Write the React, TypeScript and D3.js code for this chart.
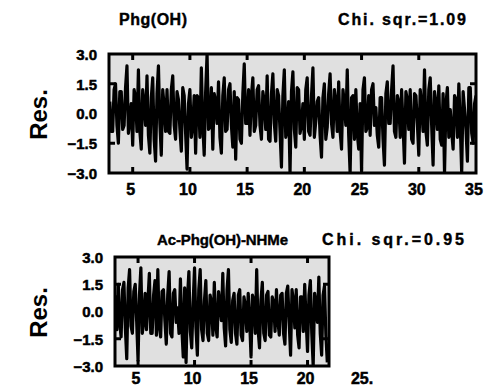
import React, { useEffect, useRef } from 'react';
import * as d3 from 'd3';

// residuals, one value every 0.125 units starting at x = 3
const phgResiduals = [
  0.6, -0.9, -0.9, 1.2, 1.5, -0.6, -1.5, 1.1, 1.1, -0.8, -0.6, 1.3, 2.4, -1.0, -0.4, 0.5, -1.6, 1.2, 0.8, -0.9,
  2.2, -0.9, -1.8, 1.2, 0.5, -0.6, 1.9, -1.1, -2.0, 0.8, 1.8, -1.3, -2.4, 1.0, 2.4, -0.5, -2.1, 1.2, 0.4, -0.9,
  1.2, -0.9, -1.0, 1.2, 1.9, -0.6, -1.3, 1.1, 0.7, -0.8, -1.9, 1.3, 0.9, -1.0, -2.8, 0.5, 1.2, -1.2, -0.6, 0.9,
  -2.0, 0.9, 0.8, -1.2, 2.3, -0.6, -2.1, 1.1, 3.0, -0.8, -0.7, 1.3, -1.8, 1.0, 0.6, -0.5, 1.6, -1.2, -2.0, 0.9,
  1.8, -0.9, -0.8, 1.2, 1.5, -0.6, -1.7, 1.1, -2.3, 0.8, 0.7, -1.3, -1.5, 1.0, 2.5, -0.5, -0.5, 1.2, -1.1, 0.9,
  1.8, -0.9, -0.6, 1.2, 1.4, -0.6, -1.3, 1.1, 0.6, -0.8, 1.9, -1.3, -1.4, 1.0, 2.0, -0.5, -1.4, 1.2, 0.9, -0.9,
  -2.7, 0.9, 2.2, -1.2, -0.8, 0.6, -3.0, 1.1, 2.1, -0.8, -1.7, 1.3, 1.2, -1.0, -0.6, 0.5, -1.3, 1.2, 1.8, -0.9,
  -1.1, 0.9, 2.3, -1.2, -0.4, 0.6, 0.8, -1.1, -2.2, 0.8, 1.5, -1.3, -0.7, 1.0, 2.0, -0.5, -1.2, 1.2, 0.6, -0.9,
  1.6, -0.9, -1.8, 1.2, 0.5, -0.6, 2.2, -1.1, -3.0, 0.8, 0.9, -1.3, 1.2, -1.0, -1.8, 0.5, -2.9, 1.2, 1.8, -0.9,
  -0.7, 0.9, -1.1, 1.2, 1.5, -0.6, 0.3, -1.1, -1.7, 0.8, 0.8, -1.3, -2.6, 1.0, 1.6, -0.5, -0.5, 1.2, 2.4, -0.9,
  -1.2, 0.9, 0.6, -1.2, 1.2, -0.6, -2.5, 1.1, 0.7, -0.8, 1.2, -1.3, -1.5, 1.0, 0.9, -0.5, -2.1, 1.2, 0.4, -0.9,
  2.2, -0.9, -1.6, 1.2, 1.8, -0.6, -2.6, 1.1, 0.5, -0.8, 1.4, -1.3, -1.6, 1.0, -3.0, 0.5, 1.3, -1.2, 0.2, -0.9,
  -1.8, 0.9, 0.7, -1.2, 1.5, -0.6, -3.0, 1.1, 0.2, -0.8, -2.4, 1.3, 1.3, -1.0, -1.5, 0.5, 0.9,
];

const acResiduals = [
  0.9, -1.0, 1.5, -0.6, -1.4, 1.2, 1.6, -0.9, -2.6, 1.3, 2.3, -0.8, -1.2, 1.1, 1.5, -0.5, -2.7, 0.9, 2.4, -1.2,
  -0.6, 1.0, -1.0, 0.6, 2.1, -1.2, -1.2, 0.9, 1.7, -1.3, 2.3, -0.8, -1.4, 1.1, 1.2, -0.5, -1.8, 0.9, 2.2, -1.2,
  -1.4, 1.0, 1.2, -0.6, 0.2, -1.2, 1.8, -0.9, -2.5, 1.3, -2.8, 0.8, 2.2, -1.1, -2.0, 0.5, 2.4, -0.9, -2.4, 1.2,
  2.3, -1.0, -1.6, 0.6, 1.7, -1.2, -1.6, 0.9, 0.5, -1.3, 1.6, -0.8, -1.4, 1.1, 0.4, -0.5, 2.1, -0.9, -1.9, 1.2,
  2.3, -1.0, -1.7, 0.6, 1.0, -1.2, -1.8, 0.9, 1.2, -1.3, -1.6, 0.8, 0.3, -1.1, 1.0, -0.5, -2.5, 0.9, 0.6, -1.2,
  2.3, -1.0, -2.0, 0.6, 1.6, -1.2, -1.6, 0.9, 1.1, -1.3, -1.4, 0.8, 0.5, -1.1, 1.2, -0.5, -1.3, 0.9, 1.0, -1.2,
  -1.8, 1.0, 1.4, -0.6, -2.4, 1.2, 0.6, -0.9, 1.2, -1.3, -2.0, 0.8, 0.8, -1.1, 1.5, -0.5, -2.2, 0.9, 1.7, -1.2,
  -3.0, 1.0, 0.5, -0.6, 1.9, -1.2, -2.4, 0.9, 1.4, -1.3, -2.8,
];

const phgTicks = [5, 10, 15, 20, 25, 30, 35];
const acTicks = [5, 10, 15, 20, 25];
const resTicks = [3.0, 1.5, 0.0, -1.5, -3.0];

const font = '"Liberation Sans", Arial, sans-serif';

interface PanelCfg {
  id: string;
  data: number[];
  xDomain: [number, number];
  left: number;
  right: number;
  top: number;
  bottom: number;
  xTicks: number[];
  xLabelY: number;
  title: string;
  titleX: number;
  titleLen: number;
  titleSize: number;
  chi: string;
  chiX: number;
  chiLen: number;
  titleY: number;
}

const drawPanel = (svg: d3.Selection<SVGSVGElement, unknown, null, undefined>, cfg: PanelCfg) => {
  const x = d3.scaleLinear().domain(cfg.xDomain).range([cfg.left, cfg.right]);
  const y = d3.scaleLinear().domain([-3, 3]).range([cfg.bottom, cfg.top]);
  const g = svg.append('g');

  g.append('rect')
    .attr('x', cfg.left)
    .attr('y', cfg.top)
    .attr('width', cfg.right - cfg.left)
    .attr('height', cfg.bottom - cfg.top)
    .attr('fill', '#e0e0e0');

  g.append('clipPath')
    .attr('id', cfg.id)
    .append('rect')
    .attr('x', cfg.left)
    .attr('y', cfg.top)
    .attr('width', cfg.right - cfg.left)
    .attr('height', cfg.bottom - cfg.top);

  const line = d3.line<number>()
    .x((d, i) => x(3 + i * 0.125))
    .y(d => y(d));

  g.append('path')
    .datum(cfg.data)
    .attr('clip-path', `url(#${cfg.id})`)
    .attr('fill', 'none')
    .attr('stroke', '#000')
    .attr('stroke-width', 3.2)
    .attr('stroke-linejoin', 'round')
    .attr('d', line);

  // frame
  g.append('rect')
    .attr('x', cfg.left)
    .attr('y', cfg.top)
    .attr('width', cfg.right - cfg.left)
    .attr('height', cfg.bottom - cfg.top)
    .attr('fill', 'none')
    .attr('stroke', '#000')
    .attr('stroke-width', 3);

  // inward ticks on top and bottom
  const inside = cfg.xTicks.filter(t => x(t) > cfg.left + 2 && x(t) < cfg.right - 2);
  inside.forEach(t => {
    g.append('line')
      .attr('x1', x(t)).attr('x2', x(t))
      .attr('y1', cfg.top).attr('y2', cfg.top + 6)
      .attr('stroke', '#000').attr('stroke-width', 3);
    g.append('line')
      .attr('x1', x(t)).attr('x2', x(t))
      .attr('y1', cfg.bottom).attr('y2', cfg.bottom - 6)
      .attr('stroke', '#000').attr('stroke-width', 3);
  });

  // inward ticks on left and right
  [1.5, -1.5].forEach(v => {
    g.append('line')
      .attr('x1', cfg.left).attr('x2', cfg.left + 6)
      .attr('y1', y(v)).attr('y2', y(v))
      .attr('stroke', '#000').attr('stroke-width', 3);
    g.append('line')
      .attr('x1', cfg.right).attr('x2', cfg.right - 6)
      .attr('y1', y(v)).attr('y2', y(v))
      .attr('stroke', '#000').attr('stroke-width', 3);
  });

  // y labels
  g.selectAll('.ylab')
    .data(resTicks)
    .enter()
    .append('text')
    .attr('x', cfg.left - 12)
    .attr('y', d => y(d) + 2)
    .attr('text-anchor', 'end')
    .attr('dominant-baseline', 'middle')
    .style('font-family', font)
    .style('font-weight', 'bold')
    .style('font-size', '15px')
    .style('stroke', '#000')
    .style('stroke-width', 0.5)
    .text(d => (d < 0 ? '\u2212' + Math.abs(d).toFixed(1) : d.toFixed(1)));

  // x labels
  g.selectAll('.xlab')
    .data(cfg.xTicks)
    .enter()
    .append('text')
    .attr('x', d => x(d) - 2)
    .attr('y', cfg.xLabelY)
    .attr('text-anchor', 'middle')
    .attr('dominant-baseline', 'middle')
    .style('font-family', font)
    .style('font-weight', 'bold')
    .style('font-size', '16px')
    .style('stroke', '#000')
    .style('stroke-width', 0.5)
    .text(d => (d === 25 && cfg.xTicks.length === 5 ? '25.' : String(d)));

  // Res. label
  g.append('text')
    .attr('transform', `translate(41,${(cfg.top + cfg.bottom) / 2 + 1}) rotate(-90)`)
    .attr('text-anchor', 'middle')
    .attr('dominant-baseline', 'middle')
    .style('font-family', font)
    .style('font-weight', 'bold')
    .style('font-size', '24px')
    .text('Res.');

  // titles
  [
    { text: cfg.title, x: cfg.titleX, len: cfg.titleLen, size: cfg.titleSize },
    { text: cfg.chi, x: cfg.chiX, len: cfg.chiLen, size: 16 },
  ].forEach(t => {
    g.append('text')
      .attr('x', t.x)
      .attr('y', cfg.titleY)
      .attr('dominant-baseline', 'middle')
      .attr('textLength', t.len)
      .attr('lengthAdjust', 'spacing')
      .style('font-family', font)
      .style('font-weight', 'bold')
      .style('font-size', `${t.size}px`)
      .style('stroke', '#000')
      .style('stroke-width', 0.4)
      .text(t.text);
  });
};

const ResidualPanels: React.FC = () => {
  const svgRef = useRef<SVGSVGElement>(null);

  useEffect(() => {
    if (!svgRef.current) return;
    const svg = d3.select(svgRef.current);
    svg.selectAll('*').remove();

    svg.append('rect').attr('width', 487).attr('height', 392).attr('fill', '#fff');

    drawPanel(svg, {
      id: 'clip-phg',
      data: phgResiduals,
      xDomain: [2.93, 35],
      left: 109,
      right: 476,
      top: 54,
      bottom: 173,
      xTicks: phgTicks,
      xLabelY: 191,
      title: 'Phg(OH)',
      titleX: 119,
      titleLen: 68,
      titleSize: 16,
      chi: 'Chi.  sqr.=1.09',
      chiX: 338,
      chiLen: 128,
      titleY: 21,
    });

    drawPanel(svg, {
      id: 'clip-ac',
      data: acResiduals,
      xDomain: [2.96, 21.9],
      left: 115,
      right: 329,
      top: 257,
      bottom: 366,
      xTicks: acTicks,
      xLabelY: 380,
      title: 'Ac-Phg(OH)-NHMe',
      titleX: 157,
      titleLen: 131,
      titleSize: 15,
      chi: 'Chi.  sqr.=0.95',
      chiX: 322,
      chiLen: 142,
      titleY: 241,
    });
  }, []);

  return (
    <svg
      ref={svgRef}
      width="487"
      height="392"
      style={{ position: 'absolute', left: 0, top: 0 }}
    ></svg>
  );
};

export default ResidualPanels;
